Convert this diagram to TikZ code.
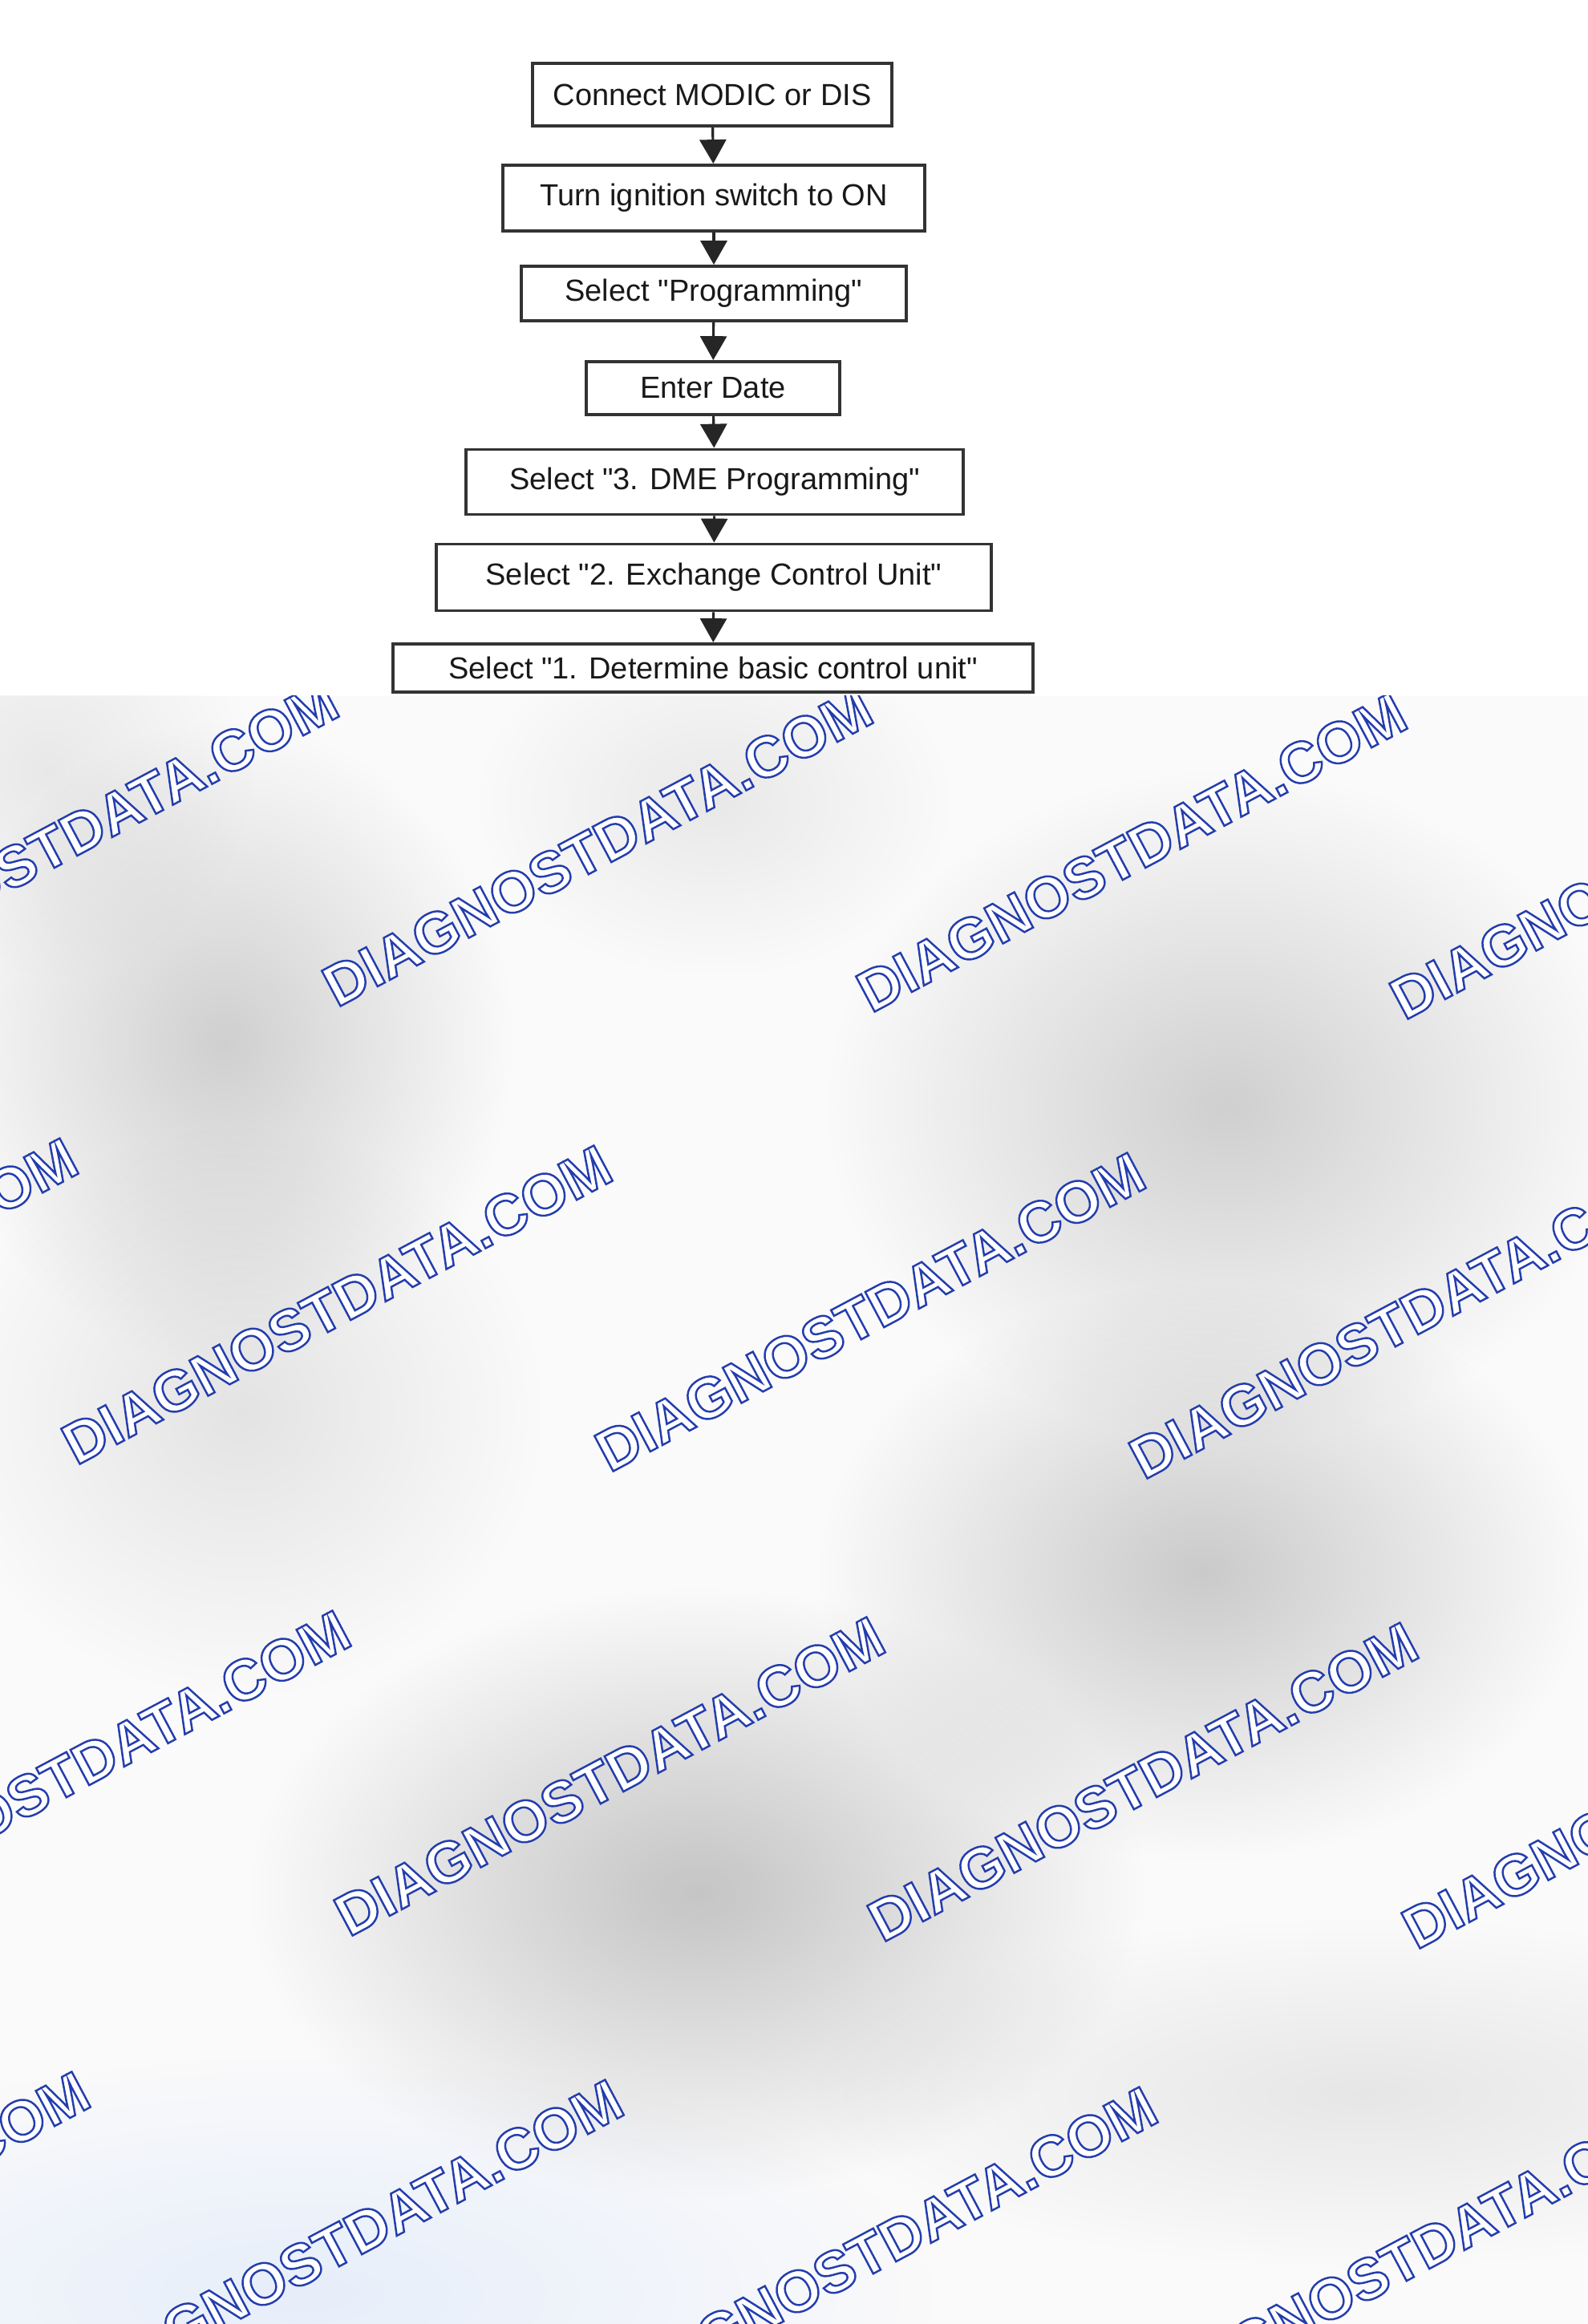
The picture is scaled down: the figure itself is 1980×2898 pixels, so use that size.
\documentclass[tikz,border=0pt]{standalone}
\usepackage{fontspec}
\setmainfont{Liberation Sans}
\usetikzlibrary{arrows.meta,fadings}

\tikzfading[name=blobfade, inner color=transparent!0, outer color=transparent!100]

% outlined watermark text (white fill, blue stroke)
\newcommand\wmtext{\special{pdf:bcolor [1 1 1] [0.14 0.24 0.68]}\special{pdf:literal direct 2 Tr 0.7 w}DIAGNOSTDATA.COM\special{pdf:literal direct 0 Tr}\special{pdf:ecolor}}
\newcommand\qq{\textquotedbl}

\tikzset{
  stepbox/.style={draw=black!80, line width=1.1pt, fill=white, inner sep=0pt,
    font=\fontsize{10.8pt}{13pt}\selectfont, text=black!90},
  flow/.style={draw=black!85, line width=0.9pt, -{Triangle[width=9.4pt,length=8.5pt]}},
  blob/.style={fill=black, path fading=blobfade, fit fading=true},
  wmark/.style={rotate=28, inner sep=0pt, font=\fontsize{20.6pt}{24pt}\selectfont\bfseries},
}

\begin{document}
\begin{tikzpicture}[x=0.01cm, y=-0.01cm]
    \useasboundingbox (0,0) rectangle (1980,2898);
    \fill[white] (0,0) rectangle (1980,868);

    % blurred lower part with the watermark
    \fill[gray!4] (0,868) rectangle (1980,2898);
    \begin{scope}
        \clip (0,868) rectangle (1980,2898);
        \foreach \cx/\cy/\rx/\ry/\op in {280/1300/360/400/0.17, 1530/1380/500/420/0.17,
            890/1000/300/220/0.07, 300/1760/380/360/0.09, 1500/1960/480/360/0.19,
            870/2360/560/380/0.21, 1700/2610/700/220/0.08, 60/960/260/260/0.07}
            \fill[blob, fill opacity=\op] (\cx,\cy) ellipse [x radius=\rx, y radius=\ry];
        \fill[blob, fill=blue!60!cyan, fill opacity=0.08] (380,2860) ellipse [x radius=800, y radius=300];
        \foreach \wx/\wy [count=\i] in {79/1048, 745/1056, 1411/1063, 2076/1072,
            -246/1618, 420/1627, 1085/1636, 1751/1645,
            94/2207, 760/2215, 1425/2222, 2091/2231,
            -231/2782, 434/2792, 1100/2801, 1765/2810}
            \node[wmark] (wm\i) at (\wx,\wy) {\wmtext};
    \end{scope}

    % flow chart
    \node[stepbox, minimum width=4.48cm, minimum height=0.78cm] (connect)  at (888,118) {Connect MODIC or DIS};
    \node[stepbox, minimum width=5.25cm, minimum height=0.82cm] (ignition) at (890,247) {Turn ignition switch to ON};
    \node[stepbox, minimum width=4.79cm, minimum height=0.68cm] (prog)     at (890,366) {Select \qq Programming\qq};
    \node[stepbox, minimum width=3.16cm, minimum height=0.66cm] (date)     at (889,484) {Enter Date};
    \node[stepbox, minimum width=6.20cm, minimum height=0.81cm] (dme)      at (891,601) {Select \qq 3. DME Programming\qq};
    \node[stepbox, minimum width=6.91cm, minimum height=0.83cm] (exchange) at (890,720) {Select \qq 2. Exchange Control Unit\qq};
    \node[stepbox, minimum width=7.97cm, minimum height=0.60cm] (basic)    at (889,833) {Select \qq 1. Determine basic control unit\qq};

    \foreach \a/\b in {connect/ignition, ignition/prog, prog/date, date/dme, dme/exchange, exchange/basic}
        \draw[flow] (\a) -- (\b);
\end{tikzpicture}
\end{document}
